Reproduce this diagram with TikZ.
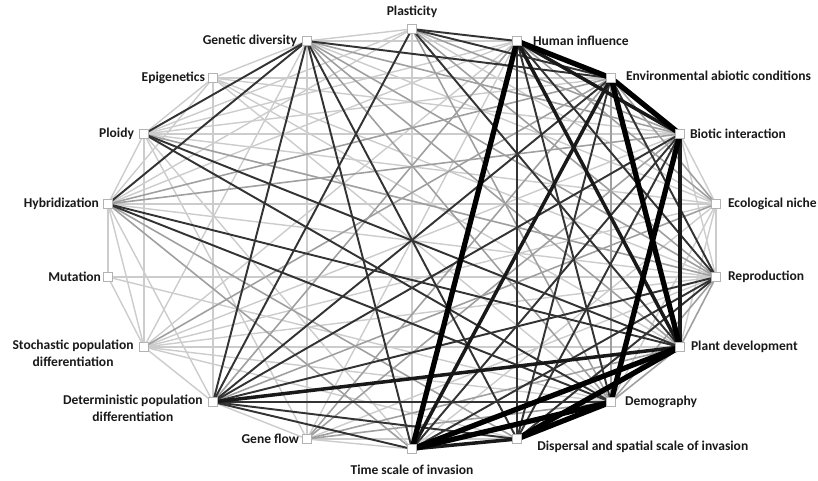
\documentclass[tikz,border=0pt]{standalone}
\usepackage{fontspec}
\setsansfont{Carlito}
\usetikzlibrary{positioning,backgrounds}

\begin{document}
\begin{tikzpicture}[
  x=0.02cm, y=-0.02cm,
  vertex/.style={rectangle, draw=gray!60, fill=white, line width=0.5pt, minimum size=0.17cm, inner sep=0pt},
  lbl/.style={font=\sffamily\bfseries\fontsize{7.7}{9.6}\selectfont, inner sep=0pt, text=black!90},
  wlight/.style={gray!40, line width=0.8pt},
  wmid/.style={gray!75, line width=0.9pt},
  wdark/.style={black!80, line width=1.1pt},
  wthick/.style={black!90, line width=2pt},
  wheavy/.style={black, line width=3pt}
]
\useasboundingbox (0,0) rectangle (818,480);

% Factors on the ellipse
\node[vertex] (pla) at (412,29) {};
\node[vertex] (gen) at (307,41) {};
\node[vertex] (hum) at (517,41) {};
\node[vertex] (epi) at (213,78) {};
\node[vertex] (env) at (611,78) {};
\node[vertex] (plo) at (144,134) {};
\node[vertex] (bio) at (680,134) {};
\node[vertex] (hyb) at (108,204) {};
\node[vertex] (eco) at (716,204) {};
\node[vertex] (mut) at (108,277) {};
\node[vertex] (rep) at (716,277) {};
\node[vertex] (sto) at (144,347) {};
\node[vertex] (pdv) at (680,347) {};
\node[vertex] (det) at (213,402) {};
\node[vertex] (dem) at (611,402) {};
\node[vertex] (gfl) at (307,439) {};
\node[vertex] (tsc) at (412,449) {};
\node[vertex] (dis) at (517,439) {};

% Labels
\node[lbl, above=0.12cm of pla] (plaL) {Plasticity};
\node[lbl, left=0.1cm of gen] (genL) {Genetic diversity};
\node[lbl, right=0.22cm of hum] (humL) {Human influence};
\node[lbl, left=0.06cm of epi] (epiL) {Epigenetics};
\node[lbl, right=0.2cm of env, yshift=0.04cm] (envL) {Environmental abiotic conditions};
\node[lbl, left=0.1cm of plo] (ploL) {Ploidy};
\node[lbl, right=0.1cm of bio] (bioL) {Biotic interaction};
\node[lbl, left=0.08cm of hyb] (hybL) {Hybridization};
\node[lbl, right=0.14cm of eco] (ecoL) {Ecological niche};
\node[lbl, left=0.04cm of mut] (mutL) {Mutation};
\node[lbl, right=0.14cm of rep] (repL) {Reproduction};
\node[lbl, align=center, anchor=north east] (stoL) at ([xshift=-0.2cm, yshift=0.14cm]sto.center) {Stochastic population\\differentiation};
\node[lbl, right=0.12cm of pdv] (pdvL) {Plant development};
\node[lbl, align=center, anchor=north east] (detL) at ([xshift=-0.2cm, yshift=0.14cm]det.center) {Deterministic population\\differentiation};
\node[lbl, right=0.18cm of dem] (demL) {Demography};
\node[lbl, left=0.06cm of gfl] (gflL) {Gene flow};
\node[lbl, below=0.22cm of tsc] (tscL) {Time scale of invasion};
\node[lbl, anchor=west] (disL) at ([xshift=0.4cm, yshift=-0.16cm]dis.center) {Dispersal and spatial scale of invasion};

% Links, weakest first
\begin{scope}[on background layer]
\foreach \a/\b in {pla/gen, pla/eco, pla/tsc, pla/plo, pla/hyb,
    gen/epi, gen/hum, gen/eco, gen/gfl, gen/sto,
    hum/gfl, hum/hyb, hum/plo, hum/sto,
    epi/det, epi/plo, epi/hyb, epi/env, epi/bio, epi/pdv, epi/dem, epi/rep,
    env/plo, plo/hyb, plo/bio, plo/eco, plo/sto, plo/tsc, plo/gfl,
    bio/eco, bio/rep, bio/sto,
    hyb/eco, hyb/mut, hyb/sto, hyb/det, hyb/rep,
    eco/rep, eco/pdv, eco/tsc, eco/dem, eco/sto,
    mut/rep, mut/sto, mut/dem, rep/sto, rep/gfl,
    sto/det, sto/pdv, sto/dem, sto/dis,
    det/gfl, gfl/tsc, gfl/dis}
  \draw[wlight] (\a.center) -- (\b.center);
\foreach \a/\b in {pla/bio, pla/rep, pla/dem,
    gen/bio, gen/rep, gen/pdv, gen/dem,
    hum/eco, hum/det,
    env/dem, env/eco, env/hyb, env/sto, env/gfl,
    plo/rep, bio/hyb, bio/gfl, hyb/tsc, hyb/dis, eco/det,
    rep/pdv, rep/dem, pdv/dem, pdv/gfl, dem/gfl}
  \draw[wmid] (\a.center) -- (\b.center);
\foreach \a/\b in {pla/hum, pla/env, pla/pdv, pla/det,
    gen/plo, gen/hyb, gen/env, gen/det, gen/tsc, gen/dis,
    hum/dem, hum/dis, hum/rep,
    env/dis, env/det, env/rep,
    plo/pdv, plo/dem, bio/tsc, bio/dis, bio/det,
    hyb/pdv, hyb/dem, rep/det, rep/tsc, rep/dis,
    det/dem, det/tsc, det/dis}
  \draw[wdark] (\a.center) -- (\b.center);
\foreach \a/\b in {hum/bio, hum/pdv, bio/pdv, env/tsc, det/pdv, tsc/dis}
  \draw[wthick] (\a.center) -- (\b.center);
\foreach \a/\b in {hum/env, hum/tsc, env/bio, env/pdv, bio/dem,
    tsc/pdv, tsc/dem, dis/pdv, dis/dem}
  \draw[wheavy] (\a.center) -- (\b.center);
\end{scope}

\end{tikzpicture}
\end{document}
